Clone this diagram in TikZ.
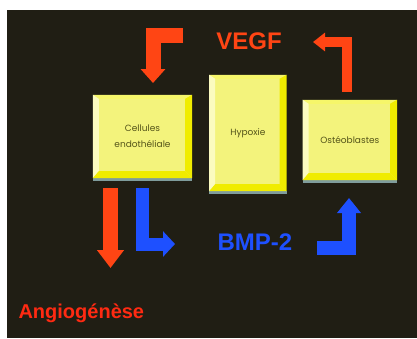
\documentclass[tikz,border=0pt]{standalone}
\usepackage{fontspec}
\setmainfont{Liberation Sans}
\newfontfamily\boxfont{Poppins}
\usetikzlibrary{positioning, arrows.meta, calc}

\definecolor{bgdark}{HTML}{201E14}
\definecolor{vegfred}{HTML}{FF4514}
\definecolor{angired}{HTML}{FF2A12}
\definecolor{bmpblue}{HTML}{1E50FF}
\definecolor{boxface}{HTML}{F3F37C}
\definecolor{bevlight}{HTML}{FBFBC0}
\definecolor{bevtop}{HTML}{F6F66A}
\definecolor{bevdark}{HTML}{F0EC00}
\definecolor{boxtext}{HTML}{55551A}
\definecolor{shadowgrey}{HTML}{7F9C9C}

\tikzset{
    cellbox/.style={fill=boxface, inner sep=0pt, align=center, text=boxtext,
        font=\boxfont\fontsize{9}{16}\selectfont},
    bigtxt/.style={font=\bfseries\fontsize{24}{24}\selectfont},
    fat/.style={line width=#1, line join=miter},
}

% bevelled edges of a box
\newcommand{\boxbevel}[1]{%
    \fill[shadowgrey] (#1.south west) rectangle ($(#1.south east)+(0,3)$);
    \coordinate (#1-a) at ($(#1.north west)+(6,4)$);
    \coordinate (#1-b) at ($(#1.north east)+(-7,4)$);
    \coordinate (#1-c) at ($(#1.south east)+(-7,-7)$);
    \coordinate (#1-d) at ($(#1.south west)+(6,-7)$);
    \fill[bevtop] (#1.north west) -- (#1.north east) -- (#1-b) -- (#1-a) -- cycle;
    \fill[bevlight] (#1.north west) -- (#1-a) -- (#1-d) -- (#1.south west) -- cycle;
    \fill[bevdark] (#1.north east) -- (#1.south east) -- (#1-c) -- (#1-b) -- cycle;
    \fill[bevdark] (#1.south west) -- (#1-d) -- (#1-c) -- (#1.south east) -- cycle;
}

\begin{document}
\begin{tikzpicture}[x=1pt, y=-1pt]
    \useasboundingbox (0,0) rectangle (417,338);
    \fill[bgdark] (7,10) rectangle (417,338);

    \node[cellbox, minimum width=99pt, minimum height=83pt] (cell) at (142.5,136.5) {Cellules\\endothéliale};
    \node[cellbox, minimum width=77pt, minimum height=116pt, right=17pt of cell, yshift=3.5pt] (hyp) {Hypoxie};
    \node[cellbox, minimum width=94pt, minimum height=80pt, right=16pt of hyp, yshift=-7pt] (osteo) {Ostéoblastes};
    \boxbevel{cell}
    \boxbevel{hyp}
    \boxbevel{osteo}

    \node[bigtxt, text=vegfred] (vegf) at (249,41) {VEGF};
    \node[bigtxt, text=bmpblue] (bmp) at (255,242) {BMP-2};
    \node[font=\bfseries\fontsize{20}{20}\selectfont, text=angired, anchor=west] (angio) at (15,313) {Angiogénèse};

    \coordinate (v1a) at (183,35.5);
    \coordinate (v1b) at (153,83);
    \coordinate (v2a) at (347,92);
    \coordinate (v2b) at (313,42);
    \coordinate (a1a) at (110.5,188);
    \coordinate (a1b) at (110.5,268);
    \coordinate (b1a) at (142.5,188);
    \coordinate (b1b) at (175,244);
    \coordinate (b2a) at (317,248);
    \coordinate (b2b) at (349,198);

    \draw[vegfred, fat=15pt, -{Triangle[width=24pt,length=14pt]}] (v1a) -| (v1b);
    \draw[vegfred, fat=10pt, -{Triangle[width=18pt,length=12pt]}] (v2a) |- (v2b);
    \draw[vegfred, fat=15pt, -{Triangle[width=26pt,length=18pt]}] (a1a) -- (a1b);
    \draw[bmpblue, fat=13pt, -{Triangle[width=25pt,length=12pt]}] (b1a) |- (b1b);
    \draw[bmpblue, fat=14pt, -{Triangle[width=23pt,length=15pt]}] (b2a) -| (b2b);
\end{tikzpicture}
\end{document}
